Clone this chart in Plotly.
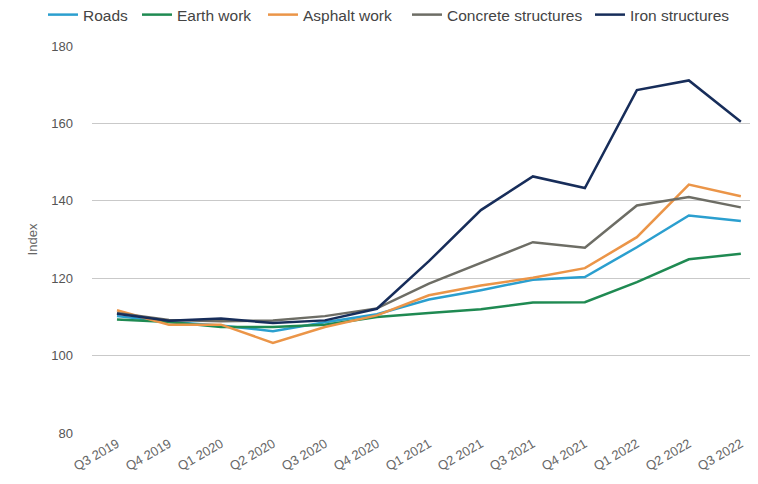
import plotly.graph_objects as go

quarters = ["Q3 2019", "Q4 2019", "Q1 2020", "Q2 2020", "Q3 2020", "Q4 2020",
            "Q1 2021", "Q2 2021", "Q3 2021", "Q4 2021", "Q1 2022", "Q2 2022", "Q3 2022"]

roads = [110.2, 108.7, 107.8, 106.3, 108.6, 110.7, 114.5, 116.9, 119.6, 120.3, 128.0, 136.2, 134.8]
earth_work = [109.3, 108.7, 107.4, 107.4, 108.0, 110.0, 111.0, 112.0, 113.7, 113.8, 119.0, 124.9, 126.3]
asphalt_work = [111.7, 108.0, 108.0, 103.3, 107.4, 110.4, 115.6, 118.1, 120.1, 122.6, 130.6, 144.2, 141.2]
concrete_structures = [111.0, 109.2, 108.9, 109.1, 110.2, 112.2, 118.6, 123.9, 129.3, 127.9, 138.8, 141.0, 138.3]
iron_structures = [110.8, 109.0, 109.6, 108.4, 109.1, 112.1, 124.4, 137.6, 146.3, 143.3, 168.6, 171.1, 160.4]

y_ticks = [80, 100, 120, 140, 160, 180]

# (name, values, colour, legend entry width in px)
series = [
    ("Roads", roads, "#2b9fcf", 49),
    ("Earth work", earth_work, "#1f8a52", 81),
    ("Asphalt work", asphalt_work, "#eb9548", 99),
    ("Concrete structures", concrete_structures, "#6d6d65", 138),
    ("Iron structures", iron_structures, "#172d5a", 105),
]

fig = go.Figure()
for name, vals, color, lw in series:
    fig.add_trace(go.Scatter(
        x=quarters, y=vals, name=name, mode="lines",
        line=dict(color=color, width=2.5),
        legendwidth=lw,
    ))

font_family = "Liberation Sans, Arial, sans-serif"

# The page body has an 8px default margin, so the figure is 8px smaller.
fig.update_layout(
    width=750, height=476,
    margin=dict(l=84, r=0, t=38, b=51, autoexpand=False),
    paper_bgcolor="white", plot_bgcolor="white",
    font=dict(family=font_family, size=13, color="#555555"),
    showlegend=True,
    legend=dict(
        orientation="h",
        x=-0.0736, y=1.08, xanchor="left", yanchor="middle",
        font=dict(size=15.5, color="#444444"),
        bgcolor="rgba(0,0,0,0)",
        itemwidth=30,
    ),
    xaxis=dict(
        type="category",
        range=[-0.48, 12.33],
        showgrid=False, showline=False, zeroline=False,
        ticks="", tickangle=-30, automargin=False,
        tickfont=dict(size=13, color="#666666"),
    ),
    yaxis=dict(
        range=[80, 180],
        tickvals=y_ticks,
        showgrid=True, gridcolor="#c9c9c9", gridwidth=1,
        zeroline=False, showline=False, automargin=False,
        ticks="", ticklabelstandoff=18,
        tickfont=dict(size=13, color="#555555"),
        title=dict(text="Index", standoff=10, font=dict(size=13, color="#666666")),
    ),
)

fig.write_html("out.html")
